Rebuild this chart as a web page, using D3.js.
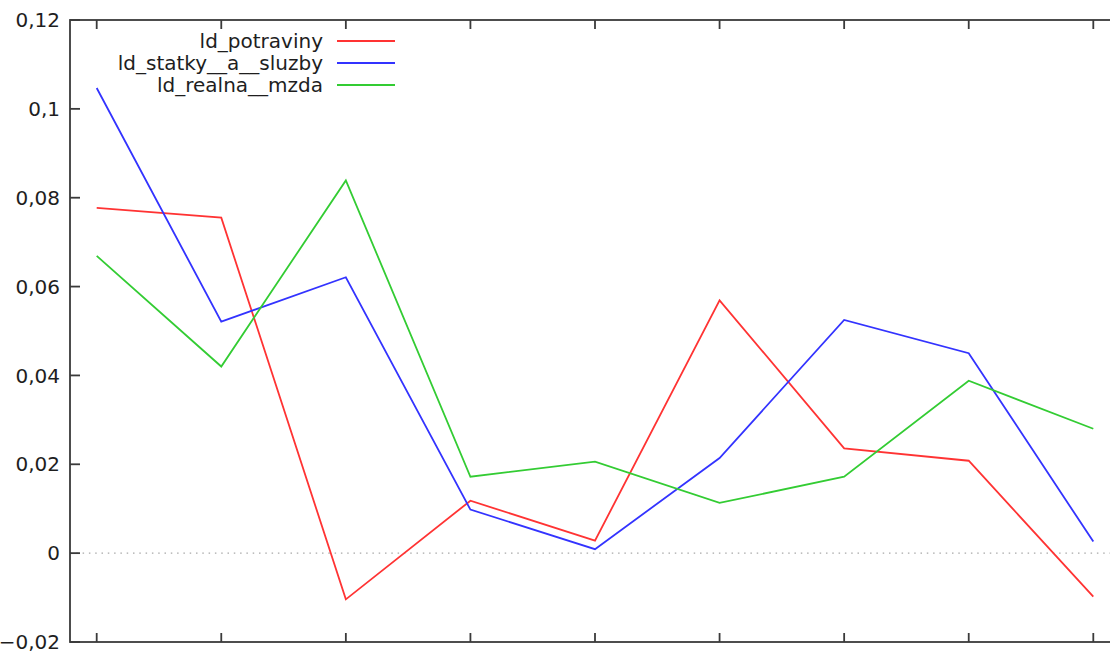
<!DOCTYPE html>
<html>
<head>
<meta charset="utf-8">
<script src="https://cdn.jsdelivr.net/npm/d3@7"></script>
<style>
  html, body { margin: 0; padding: 0; background: #fff; }
  svg { display: block; }
  text { font-family: "DejaVu Sans", Verdana, sans-serif; fill: #1e1e1e; }
</style>
</head>
<body>
<svg id="chart" width="1110" height="651"></svg>
<script>
// Observation index (one point per period)
const periods = [0, 1, 2, 3, 4, 5, 6, 7, 8];

// Log-difference series
const ldPotraviny = [0.0777, 0.0755, -0.0104, 0.0118, 0.0028, 0.0569, 0.0236, 0.0208, -0.0098];
const ldStatkyASluzby = [0.1047, 0.0521, 0.0621, 0.0098, 0.0009, 0.0214, 0.0525, 0.0450, 0.0026];
const ldRealnaMzda = [0.0669, 0.0420, 0.0839, 0.0172, 0.0206, 0.0113, 0.0172, 0.0388, 0.0280];

const seriesNames = ["ld_potraviny", "ld_statky__a__sluzby", "ld_realna__mzda"];
const seriesColors = ["#ff3333", "#3333ff", "#33cc33"];

const yTicks = [-0.02, 0, 0.02, 0.04, 0.06, 0.08, 0.1, 0.12];

const series = [ldPotraviny, ldStatkyASluzby, ldRealnaMzda];

const svg = d3.select("#chart");
const plotLeft = 70, plotRight = 1120, plotTop = 20, plotBottom = 642;

const x = d3.scaleLinear().domain([-0.2143, 8.2143]).range([plotLeft, plotRight]);
const y = d3.scaleLinear().domain([-0.02, 0.12]).range([plotBottom, plotTop]);

const fmt = v => d3.format("~g")(v).replace(".", ",");

// zero reference line
svg.append("line")
  .attr("x1", plotLeft).attr("x2", plotRight)
  .attr("y1", y(0)).attr("y2", y(0))
  .attr("stroke", "#a8a8a8").attr("stroke-width", 1.2)
  .attr("stroke-dasharray", "1.5,4.8");

// frame
svg.append("rect")
  .attr("x", plotLeft).attr("y", plotTop)
  .attr("width", plotRight - plotLeft).attr("height", plotBottom - plotTop)
  .attr("fill", "none").attr("stroke", "#3a3a3a").attr("stroke-width", 1.8);

// y ticks (inward, mirrored) and labels
const yt = svg.append("g");
yTicks.forEach(t => {
  yt.append("line").attr("x1", plotLeft).attr("x2", plotLeft + 10)
    .attr("y1", y(t)).attr("y2", y(t)).attr("stroke", "#3a3a3a").attr("stroke-width", 1.8);
  yt.append("line").attr("x1", plotRight).attr("x2", plotRight - 10)
    .attr("y1", y(t)).attr("y2", y(t)).attr("stroke", "#3a3a3a").attr("stroke-width", 1.8);
  yt.append("text").attr("x", 60).attr("y", y(t)).attr("dy", "0.36em")
    .attr("text-anchor", "end").attr("font-size", "20px").text(fmt(t));
});

// x ticks (inward, mirrored)
const xt = svg.append("g");
periods.forEach(p => {
  xt.append("line").attr("x1", x(p)).attr("x2", x(p))
    .attr("y1", plotBottom).attr("y2", plotBottom - 9).attr("stroke", "#3a3a3a").attr("stroke-width", 1.8);
  xt.append("line").attr("x1", x(p)).attr("x2", x(p))
    .attr("y1", plotTop).attr("y2", plotTop + 9).attr("stroke", "#3a3a3a").attr("stroke-width", 1.8);
});

// series lines
const line = d3.line().x((d, i) => x(periods[i])).y(d => y(d));
series.forEach((s, k) => {
  svg.append("path").datum(s)
    .attr("d", line)
    .attr("fill", "none")
    .attr("stroke", seriesColors[k])
    .attr("stroke-width", 1.8)
    .attr("stroke-linejoin", "miter");
});

// legend
const lg = svg.append("g");
seriesNames.forEach((name, k) => {
  const ly = 41 + k * 22;
  lg.append("text").attr("x", 323).attr("y", ly).attr("dy", "0.36em")
    .attr("text-anchor", "end").attr("font-size", "20px").text(name);
  lg.append("line").attr("x1", 337).attr("x2", 395)
    .attr("y1", ly).attr("y2", ly)
    .attr("stroke", seriesColors[k]).attr("stroke-width", 1.8);
});
</script>
</body>
</html>
